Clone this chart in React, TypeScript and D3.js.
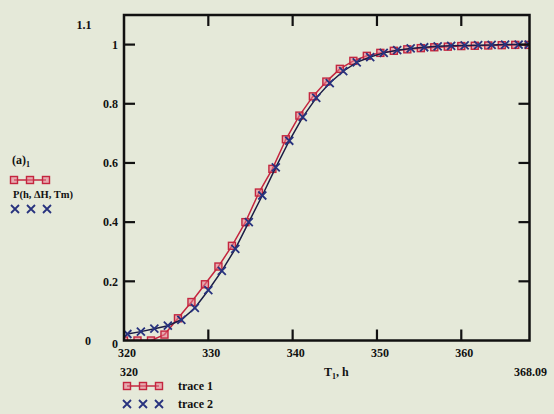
import React from "react";
import * as d3 from "d3";

// trace 1 (red boxes, model curve)
const tempTrace1 = [320, 321.6, 323.2, 324.8, 326.4, 328, 329.6, 331.2, 332.8, 334.4, 336, 337.6, 339.2, 340.8, 342.4, 344, 345.6, 347.2, 348.8, 350.4, 352, 353.6, 355.2, 356.8, 358.4, 360, 361.6, 363.2, 364.8, 366.4, 368];
const valTrace1 = [0, 0, 0, 0.02, 0.075, 0.13, 0.19, 0.25, 0.32, 0.4, 0.5, 0.58, 0.68, 0.76, 0.825, 0.875, 0.918, 0.945, 0.962, 0.972, 0.979, 0.984, 0.988, 0.991, 0.993, 0.995, 0.996, 0.997, 0.998, 0.999, 0.999];

// trace 2 (blue crosses, measured)
const tempTrace2 = [320.4, 322, 323.6, 325.2, 326.8, 328.4, 330, 331.6, 333.2, 334.8, 336.4, 338, 339.6, 341.2, 342.8, 344.4, 346, 347.6, 349.2, 350.8, 352.4, 354, 355.6, 357.2, 358.8, 360.4, 362, 363.6, 365.2, 366.8, 368];
const valTrace2 = [0.022, 0.03, 0.04, 0.05, 0.07, 0.11, 0.17, 0.235, 0.31, 0.4, 0.49, 0.585, 0.675, 0.755, 0.82, 0.87, 0.91, 0.94, 0.958, 0.972, 0.981, 0.987, 0.991, 0.994, 0.996, 0.997, 0.998, 0.999, 1.0, 1.0, 1.0];

const xTicks = [320, 330, 340, 350, 360];
const yTicks = [0.2, 0.4, 0.6, 0.8, 1];
const xDomain = [320, 368.09];
const yDomain = [0, 1.1];
const xLimitLow = "320";
const xLimitHigh = "368.09";
const yLimitLow = "0";
const yLimitHigh = "1.1";
const legendNames = ["trace 1", "trace 2"];

const RED = "#c4263f";
const RED_FILL = "rgba(232,120,140,0.55)";
const BLUE = "#27327e";
const DARK = "#1b1d45";
const FONT = "'Liberation Serif', 'DejaVu Serif', serif";

function Box({ x, y, s = 7 }: { x: number; y: number; s?: number }) {
  return <rect x={x - s / 2} y={y - s / 2} width={s} height={s} fill={RED_FILL} stroke={RED} strokeWidth={1.4} />;
}
function Cross({ x, y, s = 4, color = BLUE }: { x: number; y: number; s?: number; color?: string }) {
  return (
    <path d={`M${x - s},${y - s}L${x + s},${y + s}M${x - s},${y + s}L${x + s},${y - s}`} stroke={color} strokeWidth={1.8} fill="none" />
  );
}

export default function App() {
  const x = d3.scaleLinear().domain(xDomain).range([124, 529.5]);
  const y = d3.scaleLinear().domain(yDomain).range([340.5, 15]);
  const line = d3.line<[number, number]>().x((d) => x(d[0])).y((d) => y(d[1]));
  const d1 = tempTrace1.map((t, i) => [t, valTrace1[i]] as [number, number]);
  const d2 = tempTrace2.map((t, i) => [t, valTrace2[i]] as [number, number]);
  const x0 = x(xDomain[0]), x1 = x(xDomain[1]), y0 = y(yDomain[0]), y1 = y(yDomain[1]);
  const tl = 11;
  const txt = { fontFamily: FONT, fontWeight: 700, fontSize: 12, fill: "#111" } as const;

  return (
    <div style={{ position: "fixed", left: 0, top: 0 }}>
      <svg width={554} height={414} style={{ display: "block" }}>
        <rect width={554} height={414} fill="#e5e9d9" />
        <defs>
          <clipPath id="plot">
            <rect x={x0} y={y1} width={x1 - x0} height={y0 - y1} />
          </clipPath>
        </defs>
        <g clipPath="url(#plot)">
          <path d={line(d1) || ""} fill="none" stroke={RED} strokeWidth={1.5} />
          {d1.map((d, i) => <Box key={i} x={x(d[0])} y={y(d[1])} />)}
          <path d={line(d2) || ""} fill="none" stroke={DARK} strokeWidth={1.5} />
          {d2.map((d, i) => <Cross key={i} x={x(d[0])} y={y(d[1])} />)}
        </g>
        {/* frame */}
        <rect x={x0} y={y1} width={x1 - x0} height={y0 - y1} fill="none" stroke="#111" strokeWidth={2.5} />
        {xTicks.filter((t) => t > xDomain[0]).map((t) => (
          <g key={t}>
            <line x1={x(t)} x2={x(t)} y1={y0} y2={y0 - tl} stroke="#111" strokeWidth={2.2} />
            <line x1={x(t)} x2={x(t)} y1={y1} y2={y1 + tl} stroke="#111" strokeWidth={2.2} />
          </g>
        ))}
        {yTicks.map((t) => (
          <g key={t}>
            <line x1={x0} x2={x0 + tl} y1={y(t)} y2={y(t)} stroke="#111" strokeWidth={2.2} />
            <line x1={x1} x2={x1 - tl} y1={y(t)} y2={y(t)} stroke="#111" strokeWidth={2.2} />
          </g>
        ))}
        {/* tick labels */}
        {yTicks.map((t) => (
          <text key={t} x={x0 - 6} y={y(t)} dy="0.35em" textAnchor="end" {...txt}>
            {d3.format("~g")(t)}
          </text>
        ))}
        <text x={x0 - 6} y={y0 + 3} dy="0.35em" textAnchor="end" {...txt}>0</text>
        {xTicks.map((t) => (
          <text key={t} x={x(t) + 3} y={y0 + 16} textAnchor="middle" {...txt}>
            {t}
          </text>
        ))}
        {/* limit labels */}
        <text x={84} y={y1 + 10} dy="0.35em" textAnchor="middle" {...txt}>{yLimitHigh}</text>
        <text x={88} y={y0} dy="0.35em" textAnchor="middle" {...txt}>{yLimitLow}</text>
        <text x={129} y={376} textAnchor="middle" {...txt}>{xLimitLow}</text>
        <text x={547} y={376} textAnchor="end" {...txt}>{xLimitHigh}</text>
        {/* x axis title */}
        <text x={324} y={376} {...txt}>
          T<tspan fontSize={8} dy={3}>1</tspan><tspan dy={-3}>, h</tspan>
        </text>
        {/* y axis title block */}
        <text x={12} y={164} {...txt}>
          (a)<tspan fontSize={8} dy={3}>1</tspan>
        </text>
        <line x1={14} x2={46} y1={180} y2={180} stroke={RED} strokeWidth={1.5} />
        {[14, 30, 46].map((p) => <Box key={p} x={p} y={180} />)}
        <text x={13} y={198} {...txt} fontSize={10.5}>P(h, ΔH, Tm)</text>
        {[15, 31, 47].map((p) => <Cross key={p} x={p} y={209} />)}
        {/* legend */}
        <line x1={127} x2={159} y1={386} y2={386} stroke={RED} strokeWidth={1.5} />
        {[127, 143, 159].map((p) => <Box key={p} x={p} y={386} />)}
        <text x={178} y={390} {...txt}>{legendNames[0]}</text>
        {[127, 143, 159].map((p) => <Cross key={p} x={p} y={404} />)}
        <text x={178} y={408} {...txt}>{legendNames[1]}</text>
      </svg>
    </div>
  );
}
